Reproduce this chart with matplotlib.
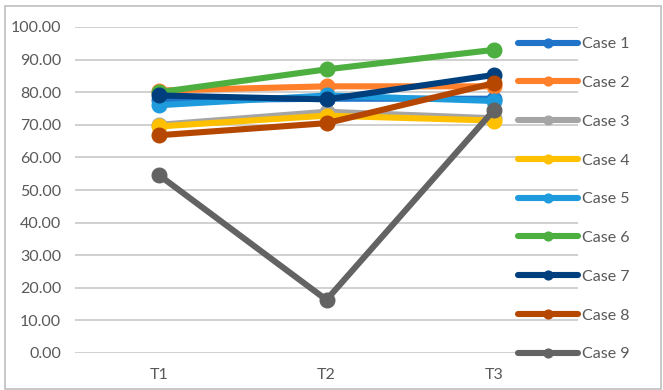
import matplotlib
matplotlib.use("Agg")
import matplotlib.pyplot as plt
from matplotlib.patches import Rectangle

plt.rcParams['font.family'] = ['Lato', 'DejaVu Sans']

periods = ["T1", "T2", "T3"]
case_names = [f"Case {i}" for i in range(1, 10)]
case1 = [77.5, 78.0, 78.0]
case2 = [80.5, 81.8, 81.8]
case3 = [70.0, 74.0, 72.0]
case4 = [69.5, 72.8, 71.3]
case5 = [76.0, 79.0, 77.3]
case6 = [80.0, 87.0, 93.0]
case7 = [79.0, 77.8, 85.3]
case8 = [66.8, 70.5, 82.8]
case9 = [54.6, 16.3, 74.6]
series = [case1, case2, case3, case4, case5, case6, case7, case8, case9]
colors = ["#1F73C8", "#FF7F2A", "#A5A5A5", "#FFC000", "#1E9BDC",
          "#4CAF3F", "#003F7D", "#B54700", "#636363"]
yticks = [0, 10, 20, 30, 40, 50, 60, 70, 80, 90, 100]

W, H = 663, 390
fig = plt.figure(figsize=(W / 100, H / 100), dpi=100)
ax = fig.add_axes([75 / W, 1 - 353 / H, (578 - 75) / W, (353 - 27) / H])

x = list(range(len(periods)))
for vals, name, col in zip(series, case_names, colors):
    ax.plot(x, vals, color=col, lw=4.4, marker='o', markersize=10.5,
            label=name, solid_capstyle='round', clip_on=False)

ax.set_xlim(-0.5, 2.5)
ax.set_ylim(0, 100)
ax.set_xticks(x)
ax.set_xticklabels(periods)
ax.set_yticks(yticks)
ax.set_yticklabels([f"{v:.2f}" for v in yticks])
ax.tick_params(length=0, labelsize=11.5, colors="#595959")
ax.tick_params(axis='x', pad=11)
ax.tick_params(axis='y', pad=10)
ax.grid(axis='y', color="#C8C8C8", lw=1.2)
ax.set_axisbelow(True)
for s in ax.spines.values():
    s.set_visible(False)

handles, labels = ax.get_legend_handles_labels()
leg = fig.legend(handles, labels, loc='upper left',
                 bbox_to_anchor=(518 / W, 1 - 37 / H),
                 frameon=False, fontsize=11.5, labelcolor="#595959",
                 handlelength=3.75, handletextpad=0.25, labelspacing=1.54,
                 borderaxespad=0, borderpad=0, markerscale=0.6)

fig.patches.append(Rectangle((5 / W, 1 / H), 656 / W, 383 / H,
                             transform=fig.transFigure, fill=False,
                             edgecolor="#BFBFBF", lw=1.2))

fig.savefig("out.png", dpi=100)
